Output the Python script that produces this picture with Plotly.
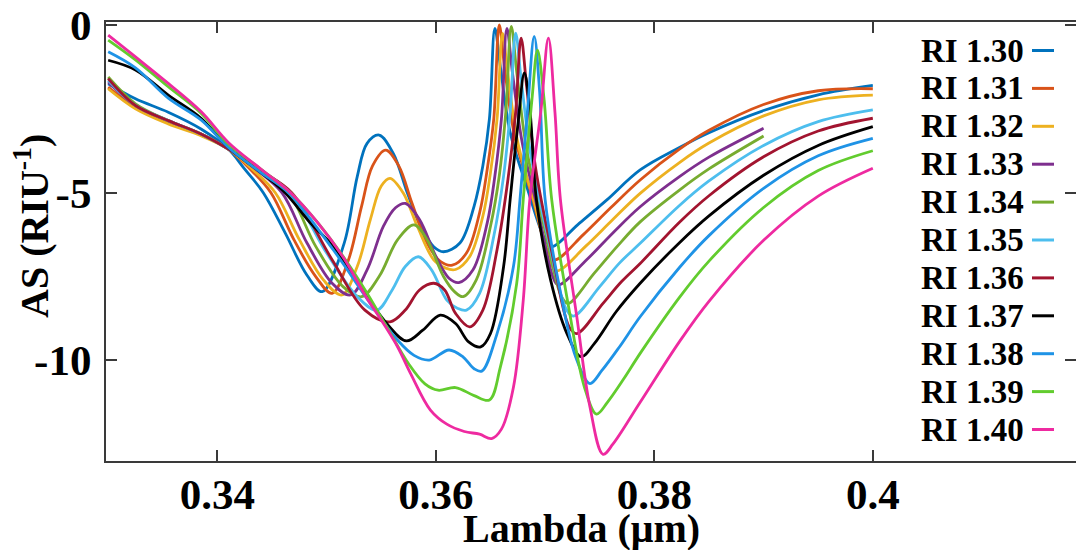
import plotly.graph_objects as go

# Refractive-index labels and line colours
ri_values = ["1.30", "1.31", "1.32", "1.33", "1.34", "1.35", "1.36", "1.37", "1.38", "1.39", "1.40"]
colors = ["#0072BD", "#D95319", "#EDB120", "#7E2F8E", "#77AC30", "#4DBEEE",
          "#A2142F", "#000000", "#1F93E6", "#62CC2E", "#EE2AA0"]

# Amplitude sensitivity AS (RIU^-1) against wavelength (um), one pair of lists per RI
lam_130 = [0.330, 0.3325, 0.3355, 0.3385, 0.341, 0.3425, 0.3442, 0.3462, 0.3482, 0.3496, 0.3516, 0.3528, 0.3537,
           0.3548, 0.3561, 0.3574, 0.3586, 0.3598, 0.3607, 0.3622, 0.3635, 0.3643, 0.3649, 0.3654, 0.3659, 0.3668,
           0.3683, 0.3700, 0.3706, 0.3730, 0.3756, 0.3787, 0.3823, 0.385, 0.390, 0.395, 0.400]
as_130 = [-1.75, -2.2, -2.6, -3.1, -3.7, -4.3, -5.0, -6.2, -7.46, -7.95, -6.51, -4.52, -3.53,
          -3.28, -3.83, -5.02, -6.0, -6.61, -6.76, -6.5, -5.4, -4.2, -2.8, -0.1, -1.24, -3.2,
          -4.8, -6.4, -6.61, -5.95, -5.23, -4.32, -3.65, -3.21, -2.55, -2.08, -1.8]

lam_131 = [0.330, 0.3325, 0.3355, 0.3385, 0.341, 0.3430, 0.3449, 0.3470, 0.3490, 0.3505, 0.3520, 0.3532, 0.3542,
           0.3554, 0.3566, 0.3578, 0.3592, 0.3604, 0.3615, 0.3628, 0.3640, 0.3647, 0.3653, 0.3658, 0.3663, 0.3672,
           0.3688, 0.3703, 0.3709, 0.3735, 0.3760, 0.3787, 0.3823, 0.385, 0.390, 0.395, 0.400]
as_131 = [-1.85, -2.45, -2.9, -3.25, -3.7, -4.3, -5.0, -6.4, -7.5, -8.0, -7.0, -5.4, -4.2,
          -3.73, -4.2, -5.3, -6.5, -7.05, -7.16, -6.8, -5.6, -4.3, -2.8, 0.0, -1.3, -3.3,
          -5.1, -6.8, -7.0, -6.25, -5.45, -4.62, -3.70, -3.14, -2.37, -1.96, -1.9]

lam_132 = [0.330, 0.3325, 0.3355, 0.3385, 0.341, 0.3432, 0.3453, 0.3475, 0.3497, 0.3514, 0.3528, 0.3540, 0.3550,
           0.3558, 0.3570, 0.3583, 0.3598, 0.3609, 0.3618, 0.3631, 0.3643, 0.3650, 0.3656, 0.3661, 0.3666, 0.3675,
           0.3691, 0.3705, 0.3711, 0.3737, 0.3762, 0.3787, 0.3823, 0.385, 0.390, 0.395, 0.400]
as_132 = [-1.9, -2.5, -2.95, -3.3, -3.7, -4.3, -5.0, -6.4, -7.6, -8.05, -7.2, -5.8, -4.8,
          -4.57, -5.0, -6.0, -7.0, -7.25, -7.29, -6.9, -5.7, -4.4, -2.8, -0.25, -1.5, -3.5,
          -5.4, -7.1, -7.33, -6.6, -5.8, -5.02, -4.10, -3.52, -2.71, -2.23, -2.09]

lam_133 = [0.330, 0.3325, 0.3355, 0.3385, 0.341, 0.3435, 0.3459, 0.3482, 0.3505, 0.3522, 0.3537, 0.3552, 0.3563,
           0.3572, 0.3585, 0.3600, 0.3612, 0.3621, 0.3634, 0.3647, 0.3654, 0.3660, 0.3665, 0.3670, 0.3679, 0.3694,
           0.3707, 0.3712, 0.3738, 0.3762, 0.3787, 0.3823, 0.385, 0.390]
as_133 = [-1.7, -2.4, -2.85, -3.25, -3.7, -4.3, -5.0, -6.5, -7.7, -8.05, -7.3, -6.0, -5.45,
          -5.32, -5.8, -6.9, -7.55, -7.68, -7.3, -5.9, -4.5, -2.8, -0.1, -1.4, -3.5, -5.6,
          -7.5, -7.75, -7.0, -6.2, -5.42, -4.52, -3.94, -3.08]

lam_134 = [0.330, 0.3325, 0.3355, 0.3385, 0.341, 0.3438, 0.3465, 0.3490, 0.3515, 0.3532, 0.3548, 0.3565, 0.3580,
           0.3592, 0.3607, 0.3617, 0.3625, 0.3637, 0.3650, 0.3658, 0.3664, 0.3669, 0.3674, 0.3683, 0.3699, 0.3715,
           0.3721, 0.3745, 0.3766, 0.3787, 0.3823, 0.385, 0.390]
as_134 = [-1.55, -2.35, -2.85, -3.25, -3.7, -4.3, -5.0, -6.6, -7.8, -8.1, -7.5, -6.4, -5.96,
          -6.4, -7.5, -7.95, -8.1, -7.6, -6.0, -4.5, -2.6, -0.04, -1.4, -3.7, -6.0, -8.1,
          -8.3, -7.4, -6.6, -5.87, -4.92, -4.29, -3.31]

lam_135 = [0.330, 0.3325, 0.3355, 0.3385, 0.341, 0.3440, 0.3467, 0.3500, 0.3528, 0.3546, 0.3560, 0.3572, 0.3584,
           0.3596, 0.3610, 0.3620, 0.3628, 0.3640, 0.3653, 0.3662, 0.3668, 0.3673, 0.3678, 0.3687, 0.3703, 0.3719,
           0.3726, 0.3750, 0.3768, 0.3787, 0.3823, 0.385, 0.390, 0.395, 0.400]
as_135 = [-1.65, -2.4, -2.85, -3.25, -3.7, -4.35, -5.0, -6.8, -8.1, -8.5, -7.9, -7.2, -6.91,
          -7.3, -8.2, -8.45, -8.5, -8.0, -6.3, -4.5, -2.6, -0.24, -1.6, -3.9, -6.4, -8.45,
          -8.68, -7.8, -7.1, -6.51, -5.38, -4.65, -3.59, -2.88, -2.53]

lam_136 = [0.330, 0.3325, 0.3355, 0.3385, 0.341, 0.3440, 0.3468, 0.3505, 0.3535, 0.3558, 0.3572, 0.3585, 0.3598,
           0.3608, 0.3618, 0.3631, 0.3643, 0.3656, 0.3666, 0.3673, 0.3678, 0.3683, 0.3691, 0.3707, 0.3722, 0.3729,
           0.3753, 0.3770, 0.3787, 0.3823, 0.385, 0.390, 0.395, 0.400]
as_136 = [-1.6, -2.4, -2.85, -3.25, -3.7, -4.35, -5.0, -7.0, -8.5, -8.85, -8.5, -7.9, -7.7,
          -7.9, -8.6, -9.0, -8.5, -6.7, -4.6, -2.6, -0.39, -1.8, -4.2, -6.9, -9.0, -9.2,
          -8.3, -7.65, -7.11, -5.88, -5.09, -3.93, -3.16, -2.78]

lam_137 = [0.330, 0.3325, 0.3355, 0.3385, 0.341, 0.3440, 0.3462, 0.3485, 0.3506, 0.3537, 0.3555, 0.3573, 0.3588,
           0.3604, 0.3618, 0.3630, 0.3641, 0.3650, 0.3662, 0.3668, 0.3675, 0.3681, 0.3686, 0.3692, 0.3705, 0.3720,
           0.3733, 0.3745, 0.3765, 0.3787, 0.3823, 0.385, 0.390, 0.395, 0.400]
as_137 = [-1.05, -1.34, -2.09, -2.78, -3.65, -4.4, -5.0, -5.9, -6.6, -8.1, -8.9, -9.42, -9.1,
          -8.65, -8.9, -9.45, -9.6, -9.2, -7.2, -5.2, -3.0, -1.43, -2.5, -5.2, -7.6, -9.2,
          -9.89, -9.5, -8.55, -7.7, -6.49, -5.69, -4.48, -3.59, -3.03]

lam_138 = [0.330, 0.3325, 0.3355, 0.3385, 0.341, 0.3440, 0.3465, 0.3506, 0.3540, 0.3565, 0.3580, 0.3594, 0.3612,
           0.3625, 0.3635, 0.3642, 0.3656, 0.3671, 0.3677, 0.3684, 0.3690, 0.3695, 0.3700, 0.3713, 0.3728, 0.3741,
           0.3752, 0.3768, 0.3787, 0.3823, 0.385, 0.390, 0.395, 0.400]
as_138 = [-0.8, -1.28, -2.18, -2.83, -3.65, -4.4, -5.0, -6.7, -8.3, -9.4, -9.85, -9.99, -9.69,
          -9.9, -10.25, -10.32, -9.2, -7.2, -5.2, -2.5, -0.34, -2.0, -5.2, -7.8, -9.9, -10.69,
          -10.3, -9.6, -8.7, -7.23, -6.28, -4.87, -3.90, -3.38]

lam_139 = [0.330, 0.3325, 0.3355, 0.3385, 0.341, 0.3440, 0.3467, 0.3492, 0.3515, 0.3537, 0.3555, 0.3575, 0.3590,
           0.3602, 0.3618, 0.3635, 0.3649, 0.3659, 0.3674, 0.3680, 0.3688, 0.3693, 0.3699, 0.3706, 0.3722, 0.3736,
           0.3747, 0.3757, 0.3772, 0.3787, 0.3823, 0.385, 0.390, 0.395, 0.400]
as_139 = [-0.45, -1.04, -1.84, -2.63, -3.55, -4.3, -5.0, -5.9, -6.9, -8.0, -9.0, -10.1, -10.7,
          -10.89, -10.81, -11.05, -11.18, -10.2, -7.7, -5.2, -2.2, -0.75, -2.2, -5.2, -8.5, -10.8,
          -11.6, -11.25, -10.55, -9.79, -8.12, -7.04, -5.44, -4.34, -3.75]

lam_140 = [0.330, 0.3325, 0.3355, 0.3385, 0.341, 0.3440, 0.3467, 0.3492, 0.3515, 0.3536, 0.3552, 0.3565, 0.3577,
           0.3595, 0.3610, 0.3626, 0.3640, 0.3651, 0.3660, 0.3671, 0.3680, 0.3686, 0.3696, 0.3703, 0.3709, 0.3714,
           0.3729, 0.3741, 0.3753, 0.3762, 0.3787, 0.3823, 0.385, 0.390, 0.395, 0.400]
as_140 = [-0.3, -0.95, -1.74, -2.58, -3.5, -4.3, -5.0, -5.9, -6.92, -8.1, -8.9, -9.6, -10.4,
          -11.48, -11.9, -12.12, -12.2, -12.33, -12.05, -10.8, -8.2, -5.2, -2.6, -0.39, -2.6, -5.2,
          -8.7, -11.38, -12.8, -12.5, -11.25, -9.44, -8.24, -6.42, -5.10, -4.27]

lam_series = [lam_130, lam_131, lam_132, lam_133, lam_134, lam_135, lam_136, lam_137, lam_138, lam_139, lam_140]
as_series = [as_130, as_131, as_132, as_133, as_134, as_135, as_136, as_137, as_138, as_139, as_140]

# Axis ticks
x_ticks = [0.34, 0.36, 0.38, 0.40]
x_tick_text = ["0.34", "0.36", "0.38", "0.4"]
y_ticks = [-10, -5, 0]
y_tick_text = ["-10", "-5", "0"]

W, H = 1076, 550
L, R, T, B = 106, 0, 22, 89
FONT = "Liberation Serif"
AXIS_COLOR = "#3a3a3a"

fig = go.Figure()
for ri, col, xs, ys in zip(ri_values, colors, lam_series, as_series):
    fig.add_trace(go.Scatter(
        x=xs, y=ys, mode="lines", name=f"RI {ri}",
        line=dict(color=col, width=2.8, shape="spline", smoothing=1.0),
        showlegend=False,
    ))

# Right-hand tick marks (no line on that side)
fig.add_trace(go.Scatter(x=[None], y=[None], yaxis="y2", showlegend=False, hoverinfo="skip"))

tick_font = dict(family=FONT, size=43, color="black", weight="bold")
fig.update_layout(
    width=W, height=H,
    margin=dict(l=L, r=R, t=T, b=B),
    paper_bgcolor="white", plot_bgcolor="white",
    xaxis=dict(
        range=[0.3298, 0.4186], tickvals=x_ticks, ticktext=x_tick_text,
        ticks="inside", ticklen=11, tickwidth=2, tickcolor=AXIS_COLOR,
        showline=True, linewidth=2, linecolor=AXIS_COLOR, mirror="ticks",
        showgrid=False, zeroline=False, automargin=False,
        tickfont=tick_font, ticklabelstandoff=-6,
    ),
    yaxis=dict(
        range=[-13.0, 0.09], tickvals=y_ticks, ticktext=y_tick_text,
        ticks="inside", ticklen=11, tickwidth=2, tickcolor=AXIS_COLOR,
        showline=True, linewidth=2, linecolor=AXIS_COLOR, mirror=False,
        showgrid=False, zeroline=False, automargin=False,
        tickfont=tick_font, ticklabelstandoff=4,
    ),
    yaxis2=dict(
        overlaying="y", side="right", range=[-13.0, 0.09], tickvals=y_ticks,
        ticks="inside", ticklen=11, tickwidth=2, tickcolor=AXIS_COLOR,
        showticklabels=False, showline=False, showgrid=False, zeroline=False,
        automargin=False,
    ),
)

plot_w = W - L - R
plot_h = H - T - B


def px_x(p):
    return (p - L) / plot_w


def px_y(p):
    return (H - B - p) / plot_h


# Axis titles
fig.add_annotation(x=px_x(581), y=px_y(528), xref="paper", yref="paper",
                   text="Lambda (μm)", showarrow=False, xanchor="center", yanchor="middle",
                   font=dict(family=FONT, size=40, color="black", weight="bold"))
fig.add_annotation(x=px_x(31), y=px_y(226), xref="paper", yref="paper",
                   text="AS (RIU<sup>-1</sup>)", showarrow=False, textangle=-90,
                   xanchor="center", yanchor="middle",
                   font=dict(family=FONT, size=40, color="black", weight="bold"))

# Legend drawn as label + line sample, label on the left
row0, row_step = 50.5, 37.9
for i, (ri, col) in enumerate(zip(ri_values, colors)):
    yc = row0 + i * row_step
    fig.add_annotation(
        x=px_x(1026), y=px_y(yc), xref="paper", yref="paper",
        text=f"RI {ri}", showarrow=False, xanchor="right", yanchor="middle",
        font=dict(family=FONT, size=33, color="black", weight="bold"),
    )
    fig.add_shape(
        type="line", xref="paper", yref="paper",
        x0=px_x(1032), x1=px_x(1054), y0=px_y(yc), y1=px_y(yc),
        line=dict(color=col, width=3),
    )

fig.write_html("out.html")
